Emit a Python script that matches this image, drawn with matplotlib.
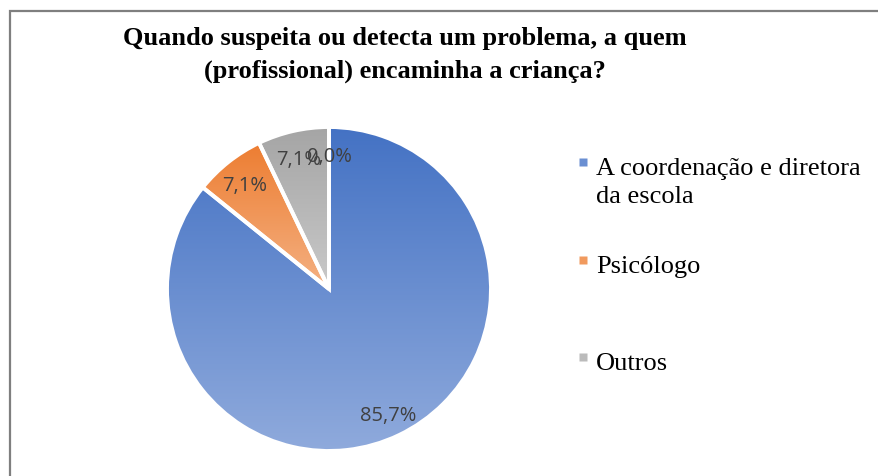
import numpy as np
import matplotlib
matplotlib.use('Agg')
import matplotlib.pyplot as plt
from matplotlib.colors import LinearSegmentedColormap

# Data
categories = ['A coordenação e diretora\nda escola', 'Psicólogo', 'Outros']
percent = [85.7, 7.1, 7.1, 0.0]
top_colors = ['#4472C4', '#ED7D31', '#A5A5A5', '#FFC000']
bottom_colors = ['#8FAADC', '#F4B183', '#C9C9C9', '#FFD966']
legend_colors = ['#6A8FD2', '#F19A5E', '#BBBBBB']

title = 'Quando suspeita ou detecta um problema, a quem\n(profissional) encaminha a criança?'

W, H = 879, 477
fig = plt.figure(figsize=(W / 100, H / 100), dpi=100)
ax = fig.add_axes([0, 0, 1, 1])

# chart frame (cut at right/bottom like the source)
ax.plot([10.5, 10.5, W], [0, H - 11.5, H - 11.5], color='#7f7f7f', lw=1.6,
        solid_joinstyle='miter')

cx, cy, r = 329, H - 290, 162
wedges, _ = ax.pie(percent, startangle=90, counterclock=False, radius=r,
                   center=(cx, cy), frame=True,
                   wedgeprops=dict(linewidth=2.8, edgecolor='white'))
ax.set_xlim(0, W)
ax.set_ylim(0, H)
ax.axis('off')

# vertical gradient fill clipped to each wedge
grad = np.linspace(0, 1, 256).reshape(-1, 1)
for w, c0, c1 in zip(wedges, top_colors, bottom_colors):
    ext = w.get_path().get_extents()
    cmap = LinearSegmentedColormap.from_list('g', [c1, c0])
    im = ax.imshow(grad, cmap=cmap, origin='lower', aspect='auto',
                   extent=(ext.x0, ext.x1, ext.y0, ext.y1), zorder=0.5)
    im.set_clip_path(w)
    w.set_facecolor('none')
    w.set_zorder(1)

# data labels
for w, p in zip(wedges, percent):
    ang = np.deg2rad((w.theta1 + w.theta2) / 2)
    d = 0.84 * r
    ax.text(cx + d * np.cos(ang), cy + d * np.sin(ang) - 3,
            ('%.1f%%' % p).replace('.', ','), ha='center', va='center',
            fontsize=14.5, color='#404040', family='Open Sans', zorder=3)

ax.text(405, H - 55, title, ha='center', va='center',
        fontsize=19, fontweight='bold', family='Liberation Serif',
        linespacing=1.5)

# legend, drawn like the Excel one (marker beside first line)
entry_y = [H - 175, H - 273, H - 370]
for lab, c, y in zip(categories, legend_colors, entry_y):
    ax.plot([583], [y + 12], marker='s', ls='none', markersize=6,
            markerfacecolor=c, markeredgecolor='none')
    for k, line in enumerate(lab.split('\n')):
        ax.text(596, y - 28 * k, line, ha='left', va='baseline',
                fontsize=19, family='Liberation Serif', color='black')

fig.savefig('out.png', dpi=100)
